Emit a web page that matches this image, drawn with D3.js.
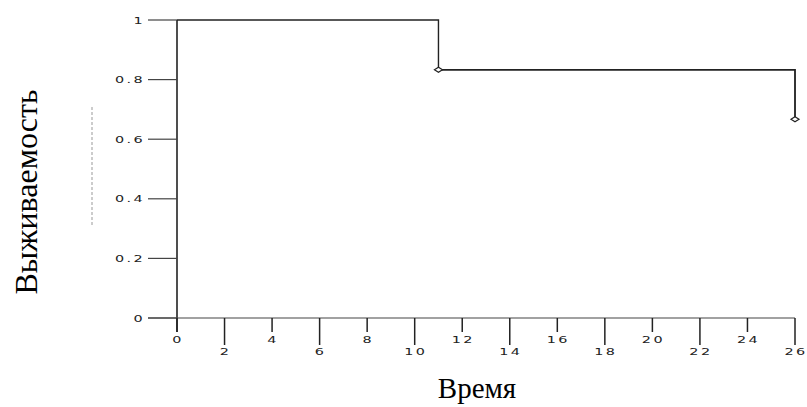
<!DOCTYPE html>
<html><head><meta charset="utf-8">
<script src="https://cdn.jsdelivr.net/npm/d3@7"></script>
<style>body{margin:0;background:#fff}</style>
</head><body>
<script>
const times = [0, 11, 26];
const survival = [1, 0.8333, 0.6667];
const censorTimes = [11, 26];
const censorValues = [0.8333, 0.6667];
const xTicks = [0,2,4,6,8,10,12,14,16,18,20,22,24,26];
const yTicks = [0,0.2,0.4,0.6,0.8,1];
const yTickLabels = ["0","0.2","0.4","0.6","0.8","1"];

const W = 807, H = 407;
const svg = d3.select("body").append("svg").attr("width", W).attr("height", H);
const x = d3.scaleLinear().domain([0, 26]).range([177, 795]);
const y = d3.scaleLinear().domain([0, 1]).range([318, 20]);

const axisColor = "#222";
const tickFont = "DejaVu Sans";
// y axis
svg.append("line").attr("x1", x(0)).attr("x2", x(0)).attr("y1", y(1)).attr("y2", y(0) + 14)
  .attr("stroke", axisColor).attr("stroke-width", 1.6);
svg.selectAll(".yt").data(yTicks).join("line")
  .attr("x1", x(0) - 29).attr("x2", x(0)).attr("y1", d => y(d)).attr("y2", d => y(d))
  .attr("stroke", "#444").attr("stroke-width", 1.2);
svg.selectAll(".yl").data(yTicks).join("text")
  .attr("transform", d => `translate(${x(0) - 32},${y(d) + 3.5}) scale(1.6,1)`)
  .attr("text-anchor", "end").attr("font-family", tickFont).attr("font-size", 9)
  .attr("letter-spacing", 1.5).attr("fill", "#222")
  .text((d, i) => yTickLabels[i]);

// x axis
svg.append("line").attr("x1", x(0) - 29).attr("x2", x(26)).attr("y1", y(0)).attr("y2", y(0))
  .attr("stroke", "#444").attr("stroke-width", 1.2);
svg.selectAll(".xt").data(xTicks).join("line")
  .attr("x1", d => x(d)).attr("x2", d => x(d)).attr("y1", y(0))
  .attr("y2", (d, i) => y(0) + (i % 2 === 0 ? 14 : 27))
  .attr("stroke", axisColor).attr("stroke-width", 1.5);
svg.selectAll(".xl").data(xTicks).join("text")
  .attr("transform", (d, i) => `translate(${x(d) + 1},${y(0) + (i % 2 === 0 ? 24.5 : 36.5)}) scale(1.6,1)`)
  .attr("text-anchor", "middle").attr("font-family", tickFont).attr("font-size", 9)
  .attr("letter-spacing", 1.5).attr("fill", "#222").text(d => d);

// step curve
const pts = times.map((t, i) => [t, survival[i]]);
const line = d3.line().x(d => x(d[0])).y(d => y(d[1])).curve(d3.curveStepAfter);
svg.append("path").datum(pts).attr("d", line).attr("fill", "none")
  .attr("stroke", "#222").attr("stroke-width", 1.4);
svg.append("path")
  .attr("d", d3.line()([[x(11), y(survival[1])], [x(26), y(survival[1])], [x(26), y(survival[2])]]))
  .attr("fill", "none").attr("stroke", "#222").attr("stroke-width", 1.4);

// censor markers
svg.selectAll(".cm").data(censorTimes).join("path")
  .attr("d", (d, i) => {
    const cx = x(d), cy = y(censorValues[i]);
    return `M${cx-4},${cy}L${cx},${cy-2.5}L${cx+4},${cy}L${cx},${cy+2.5}Z`;
  })
  .attr("fill", "#fff").attr("stroke", "#222").attr("stroke-width", 1.2);

// faint dashed artifact line
svg.append("line").attr("x1", 92).attr("x2", 92).attr("y1", 107).attr("y2", 227)
  .attr("stroke", "#999").attr("stroke-width", 1).attr("stroke-dasharray", "3,2");

// axis titles
svg.append("text").attr("x", 477).attr("y", 398).attr("text-anchor", "middle")
  .attr("font-family", "Liberation Serif").attr("font-size", 29).attr("fill", "#000").text("Время");
svg.append("text").attr("transform", "translate(37,192) rotate(-90)").attr("text-anchor", "middle")
  .attr("font-family", "Liberation Serif").attr("font-size", 32).attr("fill", "#000").text("Выживаемость");
</script>
</body></html>
